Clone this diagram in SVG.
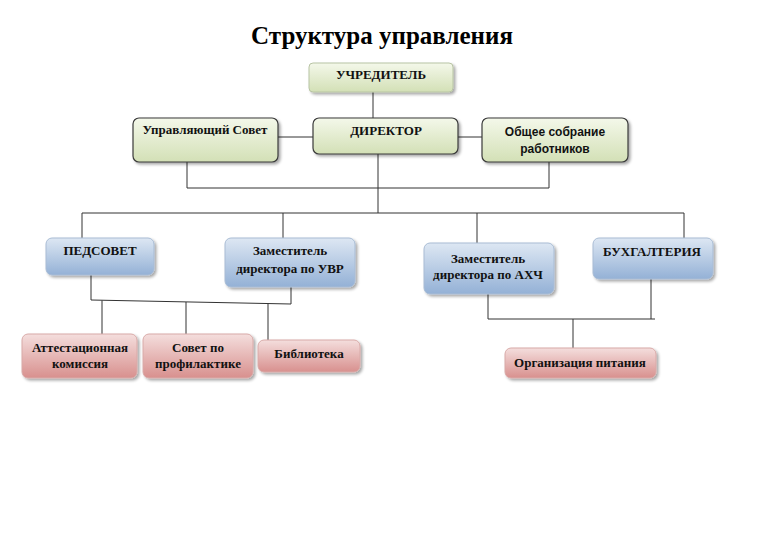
<svg xmlns="http://www.w3.org/2000/svg" width="768" height="543" viewBox="0 0 768 543">
<defs>
<linearGradient id="gGreen" x1="0" y1="0" x2="0" y2="1">
<stop offset="0" stop-color="#f4f8ea"/><stop offset="1" stop-color="#d3e0b6"/>
</linearGradient>
<linearGradient id="gBlue" x1="0" y1="0" x2="0" y2="1">
<stop offset="0" stop-color="#dde7f3"/><stop offset="1" stop-color="#94b1d6"/>
</linearGradient>
<linearGradient id="gPink" x1="0" y1="0" x2="0" y2="1">
<stop offset="0" stop-color="#f4dedd"/><stop offset="1" stop-color="#d8908e"/>
</linearGradient>
<filter id="sh" x="-10%" y="-10%" width="130%" height="140%">
<feGaussianBlur in="SourceAlpha" stdDeviation="1.5"/>
<feOffset dx="1.5" dy="2" result="b"/>
<feComponentTransfer><feFuncA type="linear" slope="0.35"/></feComponentTransfer>
<feMerge><feMergeNode/><feMergeNode in="SourceGraphic"/></feMerge>
</filter>
</defs>
<style>
.g{fill:url(#gGreen);stroke:#3a3a3a;stroke-width:1.2;filter:url(#sh)}
.g0{fill:url(#gGreen);stroke:#b8c4a4;stroke-width:1;filter:url(#sh)}
.b{fill:url(#gBlue);stroke:#a9bcd4;stroke-width:1;filter:url(#sh)}
.p{fill:url(#gPink);stroke:#d8aaa8;stroke-width:1;filter:url(#sh)}
.t{font-family:"Liberation Serif","Times New Roman",serif;font-weight:bold;font-size:13px;fill:#111;text-anchor:middle}
.s{font-family:"Liberation Sans",Arial,sans-serif;font-weight:bold;font-size:12px;fill:#111;text-anchor:middle}
.c{fill:none;stroke:#333;stroke-width:1}
</style>
<rect width="768" height="543" fill="#fff"/>
<text x="382" y="44" font-family="Liberation Serif,'Times New Roman',serif" font-weight="bold" font-size="25" text-anchor="middle" fill="#000">Структура управления</text>
<g id="connectors" class="c">
<path d="M373 92V118"/>
<path d="M278 137H313M458 137H482"/>
<path d="M187 162V188H549V162M378 154V213"/>
<path d="M82 238V213H684V238M283 213V238M477 213V243"/>
<path d="M91 275V300L291 304V287"/>
<path d="M102 300.5V334M186 302V334M268 303.5V340"/>
<path d="M488 294V319H655M651 279V319M573 319V348"/>
</g>
<g id="uchreditel"><rect class="g0" x="309" y="63" width="144" height="29" rx="4"/><text class="t" x="381" y="79">УЧРЕДИТЕЛЬ</text></g>
<g id="sovet"><rect class="g" x="133" y="118" width="145" height="44" rx="6"/><text class="t" x="205" y="134">Управляющий Совет</text></g>
<g id="director"><rect class="g" x="313" y="118" width="145" height="36" rx="6"/><text class="t" x="386" y="135">ДИРЕКТОР</text></g>
<g id="sobranie"><rect class="g" x="482" y="118" width="146" height="44" rx="6"/><text class="s" x="555" y="136">Общее собрание</text><text class="s" x="555" y="153">работников</text></g>
<g id="pedsovet"><rect class="b" x="46" y="238" width="108" height="37" rx="6"/><text class="t" x="100" y="255">ПЕДСОВЕТ</text></g>
<g id="uvr"><rect class="b" x="225" y="238" width="130" height="49" rx="6"/><text class="t" x="290" y="255">Заместитель</text><text class="t" x="290" y="273">директора по УВР</text></g>
<g id="ahch"><rect class="b" x="424" y="243" width="130" height="51" rx="6"/><text class="t" x="488" y="263">Заместитель</text><text class="t" x="488" y="279">директора по АХЧ</text></g>
<g id="buh"><rect class="b" x="593" y="238" width="120" height="41" rx="6"/><text class="t" x="652" y="256">БУХГАЛТЕРИЯ</text></g>
<g id="attest"><rect class="p" x="22" y="334" width="115" height="44" rx="6"/><text class="t" x="80" y="352">Аттестационная</text><text class="t" x="80" y="368">комиссия</text></g>
<g id="profil"><rect class="p" x="143" y="334" width="110" height="44" rx="6"/><text class="t" x="198" y="352">Совет по</text><text class="t" x="198" y="368">профилактике</text></g>
<g id="biblio"><rect class="p" x="258" y="340" width="102" height="32" rx="6"/><text class="t" x="309" y="358">Библиотека</text></g>
<g id="pitanie"><rect class="p" x="505" y="348" width="151" height="30" rx="6"/><text class="t" x="580" y="367">Организация питания</text></g>
</svg>
